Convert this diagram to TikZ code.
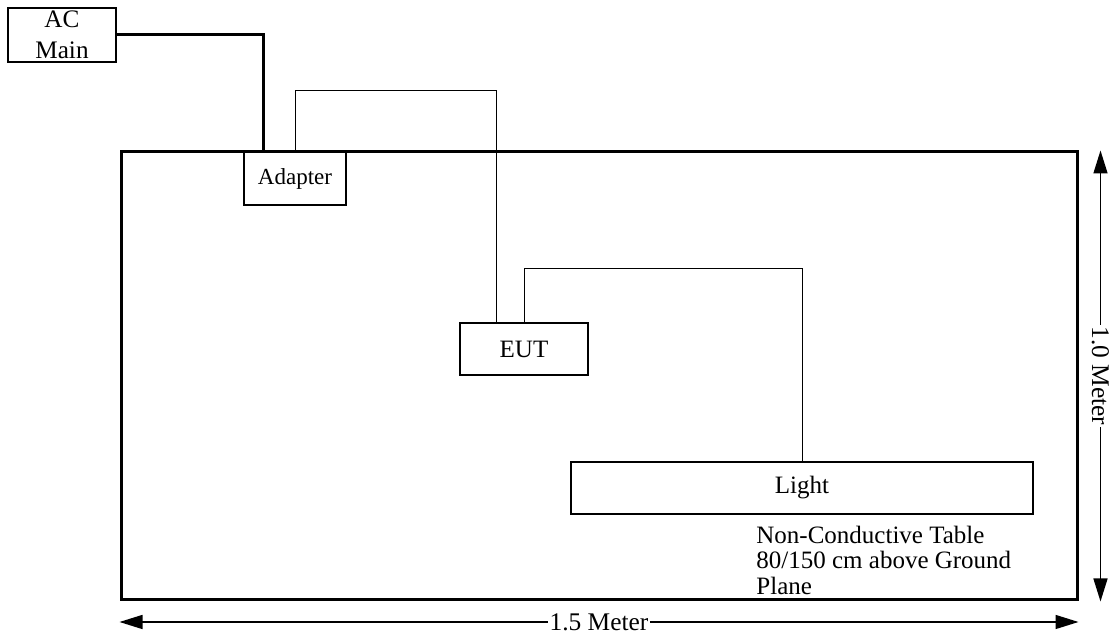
\documentclass[tikz,border=0pt]{standalone}
\usepackage{fontspec}
\setmainfont{Liberation Serif}
\usetikzlibrary{arrows.meta, positioning}

\tikzset{
  unitbox/.style={draw, line width=0.65pt, inner sep=0pt,
                  font=\fontsize{12.5}{13}\selectfont},
  wire/.style={line width=0.5pt},
  mainline/.style={line width=1.5pt},
  dimline/.style={line width=0.75pt,
                  {Triangle[length=11.5pt, width=7pt]}-{Triangle[length=11.5pt, width=7pt]}},
  dimlabel/.style={fill=white, inner sep=0.6pt, font=\fontsize{12.7}{13}\selectfont}
}

\begin{document}
\begin{tikzpicture}[x=0.5pt, y=-0.5pt]

  \useasboundingbox (0,0) rectangle (1110,635);

  %% ── Table frame ────────────────────────────────────────────
  \node[draw, line width=1.5pt, minimum width=478pt, minimum height=224pt,
        inner sep=0pt] (table) at (599,376) {};

  %% ── Units ──────────────────────────────────────────────────
  \node[unitbox, minimum width=54pt, minimum height=27pt, align=center,
        font=\fontsize{12.6}{15.5}\selectfont] (acmain) at (62,35)
    {AC\\Main};
  \node[unitbox, minimum width=51pt, minimum height=26.5pt,
        font=\fontsize{11.5}{13}\selectfont] (adapter)
    at (295,178.5) {Adapter};
  \node[unitbox, minimum width=64pt, minimum height=26pt] (eut)
    at (524,349) {EUT};
  \node[unitbox, minimum width=231pt, minimum height=26pt] (light)
    at (802,488) {Light};

  % Table note
  \node[inner sep=0pt, anchor=north west, align=left,
        font=\fontsize{12.5}{12.75}\selectfont] (note) at (756,525.5)
    {Non-Conductive Table\\80/150 cm above Ground\\Plane};

  %% ── Cables ─────────────────────────────────────────────────
  \draw[mainline] (acmain.east) -| ([xshift=10pt]adapter.north west);
  \draw[wire] (adapter.north) -- ++(0,-61) -| ([xshift=-14pt]eut.north);
  \draw[wire] (eut.north) -- ++(0,-54) -| (light.north);

  %% ── Dimensions ─────────────────────────────────────────────
  \draw[dimline] ([xshift=11pt]table.north east) --
    node[dimlabel, rotate=-90] (height) {1.0 Meter}
    ([xshift=11pt]table.south east);
  \draw[dimline] ([yshift=-10.25pt]table.south west) --
    node[dimlabel] (width) {1.5 Meter}
    ([yshift=-10.25pt]table.south east);

\end{tikzpicture}
\end{document}
